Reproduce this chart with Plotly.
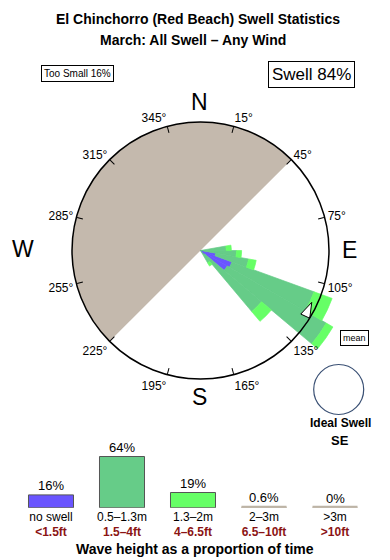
import plotly.graph_objects as go

# ---------------- data ----------------
directions = [85, 95, 105, 115, 125, 135, 145]          # swell direction bins (deg, from)
bin_width = 10
rose_none = [0.0, 0.2, 1.2, 2.6, 2.4, 0.4, 0.0]         # <0.5 m (no swell)
rose_small = [2.0, 2.6, 2.6, 6.8, 8.9, 5.8, 1.1]        # 0.5-1.3 m
rose_medium = [0.4, 0.4, 0.6, 1.5, 0.6, 1.0, 0.3]       # 1.3-2 m
circle_r = 10                                            # outer compass circle
land_center, land_width = 315, 180                       # land sector
mean_dir = 115

deg_ticks = [15, 45, 75, 105, 135, 165, 195, 225, 255, 285, 315, 345]
deg_labels = [f"{d}°" for d in deg_ticks]

cats = ["no swell", "0.5-1.3m", "1.3-2m", "2-3m", ">3m"]
cat_ft = ["&lt;1.5ft", "1.5–4ft", "4–6.5ft", "6.5–10ft", "&gt;10ft"]
cat_m = ["no swell", "0.5–1.3m", "1.3–2m", "2–3m", "&gt;3m"]
pct = [16, 64, 19, 0.6, 0]
pct_text = ["16%", "64%", "19%", "0.6%", "0%"]

# ---------------- style ----------------
FONT = "Liberation Sans, Arial, sans-serif"
BLUE = "#6A55FF"
GREEN = "#66CC88"
BRIGHT = "#66FF66"
LAND = "#C4B9AD"
TAN = "#BDB4A6"
DARKRED = "#8B1414"

W, H = 390, 560
cx, cy = 200.5, 250.5
R_circle = 128.5
R_big = 165.0
units_big = circle_r * R_big / R_circle


def dom_x(c, r):
    return [(c - r) / W, (c + r) / W]


def dom_y(c, r):
    return [1 - (c + r) / H, 1 - (c - r) / H]


fig = go.Figure()

# land sector + rose (big polar so bars may extend beyond the circle)
fig.add_trace(go.Barpolar(r=[circle_r], theta=[land_center], width=[land_width],
                          marker=dict(color=LAND, line=dict(width=0)),
                          subplot="polar", hoverinfo="skip", showlegend=False))
for vals, col in [(rose_none, BLUE), (rose_small, GREEN), (rose_medium, BRIGHT)]:
    fig.add_trace(go.Barpolar(r=vals, theta=directions, width=[bin_width] * len(directions),
                              marker=dict(color=col, line=dict(width=0.7, color=col)),
                              subplot="polar", showlegend=False))

# circle, ticks and mean arrow
fig.add_trace(go.Scatterpolar(r=[circle_r * 0.955], theta=[mean_dir], mode="markers",
                              marker=dict(symbol="arrow", size=16, color="white", angle=25,
                                          line=dict(color="black", width=1)),
                              cliponaxis=False, subplot="polar2", showlegend=False,
                              hoverinfo="skip"))

# ideal swell mini circle (empty)
fig.add_trace(go.Scatterpolar(r=[0], theta=[0], mode="markers", marker=dict(size=0, opacity=0),
                              subplot="polar3", showlegend=False, hoverinfo="skip"))

# ---------------- bars at bottom ----------------
fig.add_trace(go.Bar(x=cats, y=[2.2] * len(cats), marker=dict(color=TAN, line=dict(width=0)),
                     width=0.634, hoverinfo="skip", showlegend=False))
fig.add_trace(go.Bar(x=cats, y=pct,
                     marker=dict(color=[BLUE, GREEN, BRIGHT, TAN, TAN],
                                 line=dict(color=["#555555", "#555555", "#555555", TAN, TAN],
                                           width=1)),
                     width=0.634, showlegend=False))

bar_left, bar_right = 15.5, 370.5
base_px = 507.7
ymax = 70
px_per_unit = 0.8

fig.update_layout(
    width=W, height=H,
    margin=dict(l=0, r=0, t=0, b=0),
    paper_bgcolor="white", plot_bgcolor="white",
    font=dict(family=FONT, color="black"),
    barmode="overlay",
    xaxis=dict(domain=[bar_left / W, bar_right / W], type="category",
               tickvals=cats,
               ticktext=[f"{m}<br><b><span style='color:{DARKRED}'>{f}</span></b>"
                         for m, f in zip(cat_m, cat_ft)],
               tickfont=dict(size=12, family=FONT, color="black"),
               showgrid=False, zeroline=False, showline=False, ticks=""),
    yaxis=dict(domain=[1 - base_px / H, 1 - (base_px - ymax * px_per_unit) / H],
               range=[0, ymax], visible=False),
    polar=dict(domain=dict(x=dom_x(cx, R_big), y=dom_y(cy, R_big)),
               bgcolor="rgba(0,0,0,0)", barmode="stack",
               angularaxis=dict(direction="clockwise", rotation=90, visible=False),
               radialaxis=dict(visible=False, range=[0, units_big])),
    polar2=dict(domain=dict(x=dom_x(cx, R_circle), y=dom_y(cy, R_circle)),
                bgcolor="rgba(0,0,0,0)",
                angularaxis=dict(direction="clockwise", rotation=90, showline=True,
                                 linecolor="black", linewidth=1.5, ticks="inside", ticklen=6,
                                 tickcolor="black", tickwidth=1, tickvals=deg_ticks,
                                 ticktext=deg_labels, showgrid=False,
                                 tickfont=dict(size=12, family=FONT, color="black")),
                radialaxis=dict(visible=False, range=[0, circle_r])),
    polar3=dict(domain=dict(x=dom_x(338.7, 25), y=dom_y(389.5, 25)),
                bgcolor="white",
                angularaxis=dict(showline=True, linecolor="#3A5074", linewidth=1.2,
                                 ticks="", showticklabels=False, showgrid=False),
                radialaxis=dict(visible=False)),
)

ann = []


def add(text, x, y, size, bold=False, **kw):
    t = f"<b>{text}</b>" if bold else text
    ann.append(dict(text=t, x=x / W, y=1 - y / H, xref="paper", yref="paper",
                    showarrow=False, font=dict(size=size, family=FONT, color=kw.pop("color", "black")),
                    xanchor="center", yanchor="middle", **kw))


add("El Chinchorro (Red Beach) Swell Statistics", 198, 19, 14, bold=True)
add("March: All Swell – Any Wind", 193, 40, 14, bold=True)
add("Too Small 16%", 77, 73.5, 10, bordercolor="black", borderwidth=1, borderpad=2,
    bgcolor="white")
add("Swell 84%", 311, 74.5, 17, bordercolor="black", borderwidth=1, borderpad=3,
    bgcolor="white")
add("N", 200, 102, 23)
add("E", 349, 249.5, 23)
add("S", 200, 396.5, 23)
add("W", 23, 249, 23)
add("mean", 354, 337.5, 9, bordercolor="black", borderwidth=1, borderpad=2, bgcolor="white")
add("Ideal Swell", 340, 423, 12, bold=True)
add("SE", 340, 440, 13, bold=True)
add("Wave height as a proportion of time", 195, 549, 14, bold=True)

for c, v, t in zip(cats, pct, pct_text):
    ann.append(dict(text=t, x=c, y=v, xref="x", yref="y", showarrow=False,
                    yanchor="bottom", yshift=0, font=dict(size=13, family=FONT, color="black")))

fig.update_layout(annotations=ann)
fig.write_html("out.html")
